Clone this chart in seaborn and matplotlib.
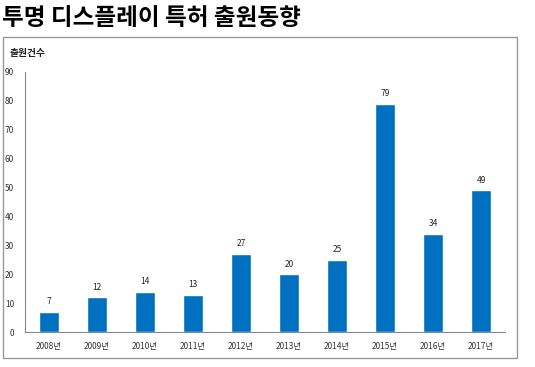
import matplotlib
matplotlib.use("Agg")
import matplotlib.pyplot as plt
from matplotlib.patches import Rectangle
import numpy as np
import pandas as pd
import seaborn as sns

years = ["2008년", "2009년", "2010년", "2011년", "2012년",
         "2013년", "2014년", "2015년", "2016년", "2017년"]
counts = [7, 12, 14, 13, 27, 20, 25, 79, 34, 49]
y_ticks = list(range(0, 91, 10))

sns.set_theme(style="white")
plt.rcParams["font.family"] = ["Noto Sans CJK KR", "DejaVu Sans"]

df = pd.DataFrame({"year": years, "count": counts})

fig = plt.figure(figsize=(5.35, 3.67), dpi=100)
ax = fig.add_axes([0.047, 0.095, 0.897, 0.709])

sns.barplot(data=df, x="year", y="count", color="#0070C0", saturation=1,
            width=0.42, ax=ax)

for i, v in enumerate(counts):
    ax.text(i, v + 2, str(v), ha="center", va="bottom", fontsize=6, color="#222222")

ax.set_ylim(0, 90)
ax.set_yticks(y_ticks)
ax.set_yticklabels([str(t) for t in y_ticks], fontsize=6, color="#333333")
ax.set_xlim(-0.5, len(years) - 0.5)
ax.tick_params(axis="x", labelsize=6, colors="#333333", length=0, pad=7)
ax.set_xticks(np.arange(-0.5, len(years), 1.0), minor=True)
ax.tick_params(axis="x", which="minor", length=3, color="#888888", direction="out")
ax.tick_params(axis="y", length=3, color="#888888", direction="out", pad=5)
ax.set_xlabel("")
ax.set_ylabel("")
for s in ["top", "right"]:
    ax.spines[s].set_visible(False)
for s in ["left", "bottom"]:
    ax.spines[s].set_color("#888888")
    ax.spines[s].set_linewidth(0.8)

# chart frame
fig.patches.append(Rectangle((3 / 535, 9 / 367), 514 / 535, 321 / 367,
                             transform=fig.transFigure, fill=False,
                             edgecolor="#999999", linewidth=1.0))

fig.text(10 / 535, 1 - 53 / 367, "출원건수", fontsize=7, fontweight="bold",
         va="center", ha="left", color="#222222")
fig.text(2 / 535, 1 - 18 / 367, "투명 디스플레이 특허 출원동향", fontsize=17,
         fontweight="heavy", va="center", ha="left", color="black")

plt.savefig("out.png", dpi=100)
plt.close()
